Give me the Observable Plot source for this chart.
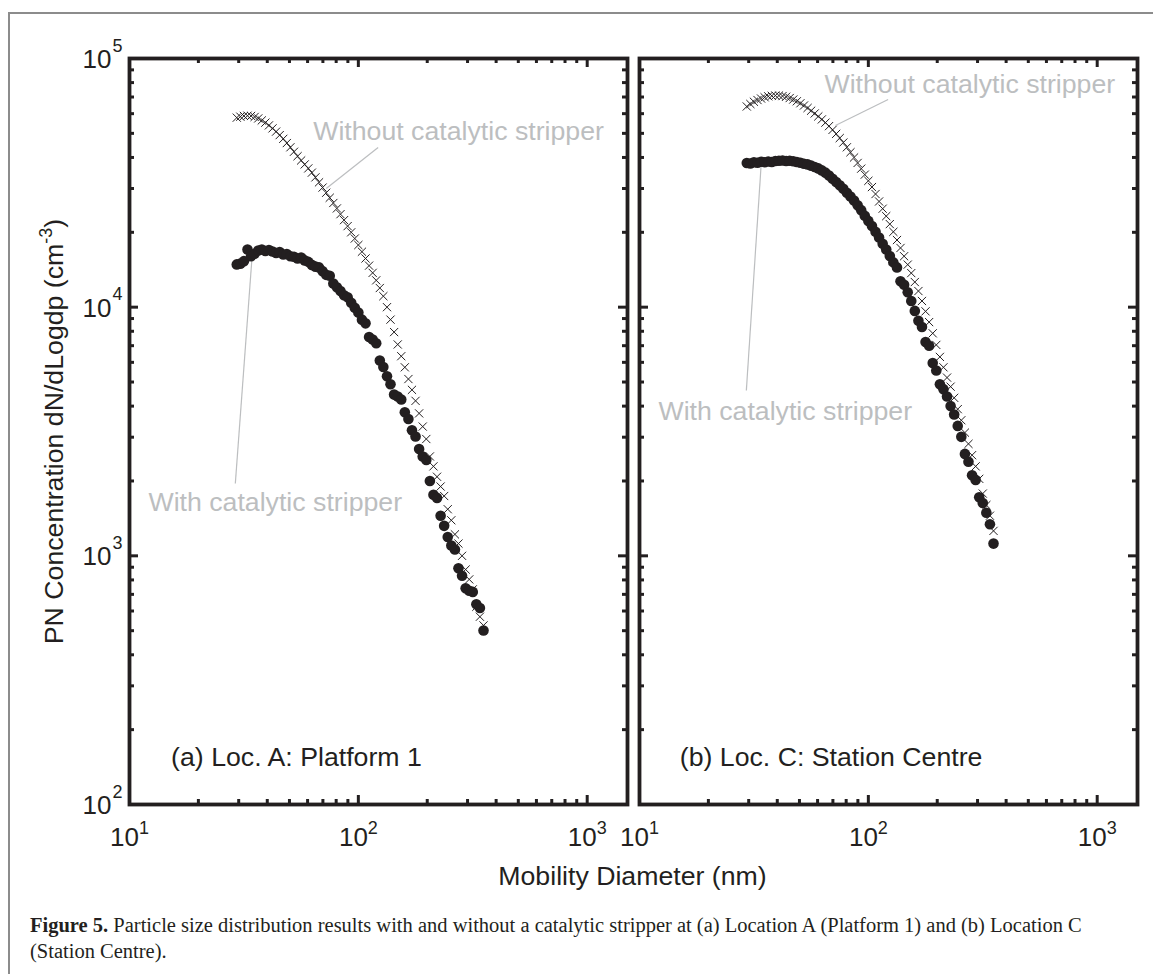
<!DOCTYPE html>
<html><head><meta charset="utf-8">
<script src="https://cdn.jsdelivr.net/npm/d3@7"></script>
<script src="https://cdn.jsdelivr.net/npm/@observablehq/plot@0.6"></script>
<style>
body{margin:0;background:#fff;}
#fig{position:relative;width:1153px;height:974px;overflow:hidden;background:#fff;}
#border{position:absolute;left:8px;top:12px;width:1200px;height:1100px;border-top:2px solid #8c8c8c;border-left:2px solid #8c8c8c;}
.panel{position:absolute;left:0;top:0;}
#caption{position:absolute;left:30px;top:912px;font-family:"Liberation Serif",serif;font-size:20.5px;line-height:26px;color:#231f20;white-space:nowrap;}
</style></head><body>
<div id="fig"><div id="border"></div><div id="p1" class="panel"></div><div id="p2" class="panel"></div>
<div id="caption"><b>Figure 5.</b> Particle size distribution results with and without a catalytic stripper at (a) Location A (Platform 1) and (b) Location C<br>(Station Centre).</div></div>
<script>
// Mobility diameter channels (nm)
const diameters = [29.43,30.51,31.62,32.78,33.98,35.22,36.52,37.85,39.24,40.68,42.17,43.71,45.32,46.98,48.70,50.48,52.33,54.25,56.23,58.29,60.43,62.64,64.94,67.32,69.78,72.34,74.99,77.74,80.58,83.54,86.60,89.77,93.06,96.47,100.0,103.7,107.5,111.4,115.5,119.7,124.1,128.6,133.4,138.2,143.3,148.6,154.0,159.6,165.5,171.5,177.8,184.3,191.1,198.1,205.4,212.9,220.7,228.8,237.1,245.8,254.8,264.2,273.8,283.9,294.3,305.1,316.2,327.8,339.8,352.3];
// (a) Loc. A: Platform 1
const panelA_without = [57810,58340,58750,58880,58750,58210,57410,56360,55210,53830,52360,50820,49200,47530,45710,43950,42170,40460,38900,37500,36140,34750,33270,31770,30270,28840,27540,26240,24950,23660,22390,21180,20000,18880,17780,16710,15700,14690,13740,12820,11940,11070,10000,8910,7940,7080,6350,5730,5140,4650,4200,3740,3310,2950,2510,2290,2080,1900,1740,1540,1390,1220,1120,1000,881,804,733,624,569,525];
const panelA_with = [14860,14960,15310,17060,16030,16410,16900,17060,16830,16980,16750,16520,16670,16290,16370,16030,15960,15700,15850,15420,15210,14790,14550,14450,13960,13490,13370,12450,12020,11610,11170,10960,10420,9950,9510,8910,8610,7590,7410,7160,6100,5750,5270,4900,4450,4370,4250,3780,3550,3200,3020,2690,2510,2430,2000,1760,1710,1450,1320,1190,1100,1060,891,832,741,724,716,638,617,501];
// (b) Loc. C: Station Centre
const panelB_without = [64120,65610,66990,68080,69020,69820,70470,70790,70960,70960,70630,70150,69340,68390,67300,66070,64710,63240,61660,60120,58480,56890,55210,53460,51640,49770,47860,45920,43950,41980,39990,38020,36060,34120,32210,30410,28510,26610,24890,23230,21580,20090,18620,17300,16030,14830,13710,12620,11610,10590,9620,8710,7850,7050,6310,5730,5210,4790,4320,3890,3510,3130,2820,2540,2290,2040,1780,1600,1450,1260];
const panelB_with = [38020,37840,38280,38110,38460,38280,38550,38370,38730,38820,38900,38730,38820,38640,38370,38110,37760,37500,37070,36640,36140,35480,34750,33810,32810,31840,30900,29920,28840,27860,26850,25700,24550,23330,22230,21180,20090,19050,17990,17060,16070,15140,14450,12710,12300,11480,10590,9660,8810,8320,7240,7000,5960,5560,4900,4680,4370,4000,3700,3330,3010,2570,2390,2110,2020,1720,1630,1490,1340,1120];

const xMajorTicks = [10, 100, 1000];
const xTickExponents = ["1", "2", "3"];
const xMinorTicks = [20,30,40,50,60,70,80,90,200,300,400,500,600,700,800,900];
const yMajorTicks = [100, 1000, 10000, 100000];
const yTickExponents = ["2", "3", "4", "5"];
const yMinorTicks = [200,300,400,500,600,700,800,900,2000,3000,4000,5000,6000,7000,8000,9000,20000,30000,40000,50000,60000,70000,80000,90000];

const panelTitles = ["(a) Loc. A: Platform 1", "(b) Loc. C: Station Centre"];
const seriesLabels = ["Without catalytic stripper", "With catalytic stripper"];
// annotation anchors in data units: label baseline start [x, y]; leader [x1, y1, x2, y2]
const annotA = {labels: [[63.5, 46800], [12.1, 1510]], leaders: [[122, 43900, 72.4, 30000], [34.4, 16400, 29.0, 1954]], title: [15.2, 143]};
const annotB = {labels: [[64.3, 72900], [12.1, 3530]], leaders: [[122, 68400, 71.8, 53800], [34.1, 38900, 29.3, 4620]], title: [15.0, 143]};

const INK = "#231f20", GREY = "#bcbec0";
const W = 1153, H = 900, TOP = 58, BOTTOM = 804;
const innerH = BOTTOM - TOP, innerW = 498;
const FS = 26.7;

function panel({left, without, withCS, annot, title, yLabels}) {
  const rowsW = diameters.map((d, i) => ({d, v: without[i]}));
  const rowsC = diameters.map((d, i) => ({d, v: withCS[i]}));
  const lab = annot.labels.map((p, i) => ({x: p[0], y: p[1], t: seriesLabels[i]}));
  const lead = annot.leaders.map(p => ({x1: p[0], y1: p[1], x2: p[2], y2: p[3]}));
  const marks = [
    Plot.link(lead, {x1: "x1", y1: "y1", x2: "x2", y2: "y2", stroke: GREY, strokeWidth: 1.2}),
    Plot.dot(rowsC, {x: "d", y: "v", r: 5.3, fill: INK}),
    Plot.dot(rowsW, {x: "d", y: "v", symbol: "times", r: 3.8, stroke: INK, strokeWidth: 1}),
    Plot.text(lab, {x: "x", y: "y", text: "t", textAnchor: "start", lineAnchor: "bottom", fill: GREY, fontSize: FS}),
    Plot.text([title], {x: annot.title[0], y: annot.title[1], text: d => d, textAnchor: "start", lineAnchor: "bottom", fill: INK, fontSize: FS}),
    // ticks (inward, all four sides)
    Plot.tickX(xMajorTicks, {x: d => d, insetTop: innerH - 9, stroke: INK, strokeWidth: 3}),
    Plot.tickX(xMajorTicks, {x: d => d, insetBottom: innerH - 9, stroke: INK, strokeWidth: 3}),
    Plot.tickX(xMinorTicks, {x: d => d, insetTop: innerH - 5, stroke: INK, strokeWidth: 3}),
    Plot.tickX(xMinorTicks, {x: d => d, insetBottom: innerH - 5, stroke: INK, strokeWidth: 3}),
    Plot.tickY(yMajorTicks, {y: d => d, insetRight: innerW - 9, stroke: INK, strokeWidth: 3}),
    Plot.tickY(yMajorTicks, {y: d => d, insetLeft: innerW - 9, stroke: INK, strokeWidth: 3}),
    Plot.tickY(yMinorTicks, {y: d => d, insetRight: innerW - 5, stroke: INK, strokeWidth: 3}),
    Plot.tickY(yMinorTicks, {y: d => d, insetLeft: innerW - 5, stroke: INK, strokeWidth: 3}),
    Plot.frame({stroke: INK, strokeWidth: 3.8}),
    // x tick labels 10^n
    Plot.text(xMajorTicks, {x: d => d, text: () => "10", frameAnchor: "bottom", textAnchor: "end", lineAnchor: "bottom", dx: 9.5, dy: 41, fontSize: 26, fill: INK}),
    Plot.text(xMajorTicks, {x: d => d, text: (d, i) => xTickExponents[i], frameAnchor: "bottom", textAnchor: "start", lineAnchor: "bottom", dx: 9.5, dy: 29, fontSize: 18, fill: INK})
  ];
  if (yLabels) {
    marks.push(
      Plot.text(yMajorTicks, {y: d => d, text: () => "10", frameAnchor: "left", textAnchor: "end", lineAnchor: "bottom", dx: -18, dy: 9.5, fontSize: 26, fill: INK}),
      Plot.text(yMajorTicks, {y: d => d, text: (d, i) => yTickExponents[i], frameAnchor: "left", textAnchor: "start", lineAnchor: "bottom", dx: -17, dy: -7, fontSize: 18, fill: INK}),
      Plot.text(["PN Concentration dN/dLogdp (cm"], {frameAnchor: "left", textAnchor: "middle", lineAnchor: "middle", dx: -75, dy: 0, rotate: -90, text: d => d, fontSize: FS, fill: INK})
    );
  } else {
    marks.push(Plot.text(["Mobility Diameter (nm)"], {frameAnchor: "bottom-left", dx: -7, dy: 80, text: d => d, textAnchor: "middle", lineAnchor: "bottom", fontSize: FS, fill: INK}));
  }
  return Plot.plot({
    width: W, height: H,
    marginLeft: left, marginRight: W - left - innerW, marginTop: TOP, marginBottom: H - BOTTOM,
    x: {type: "log", domain: [10, 1500], axis: null},
    y: {type: "log", domain: [100, 100000], axis: null},
    style: {fontFamily: "'Liberation Sans', Arial, sans-serif", background: "transparent", overflow: "visible", color: INK},
    marks
  });
}

const svg1 = panel({left: 129, without: panelA_without, withCS: panelA_with, annot: annotA, title: panelTitles[0], yLabels: true});
const svg2 = panel({left: 639, without: panelB_without, withCS: panelB_with, annot: annotB, title: panelTitles[1], yLabels: false});
document.getElementById("p1").appendChild(svg1);
document.getElementById("p2").appendChild(svg2);

// superscript in y-axis title
d3.select(svg1).selectAll("text").filter(function() { return this.textContent.startsWith("PN Concentration"); })
  .each(function() {
    const t = d3.select(this);
    t.text("PN Concentration dN/dLogdp (cm");
    t.append("tspan").attr("font-size", 18).attr("dy", -11).text("-3");
    t.append("tspan").attr("font-size", FS).attr("dy", 11).text(")");
  });
</script>
</body></html>
